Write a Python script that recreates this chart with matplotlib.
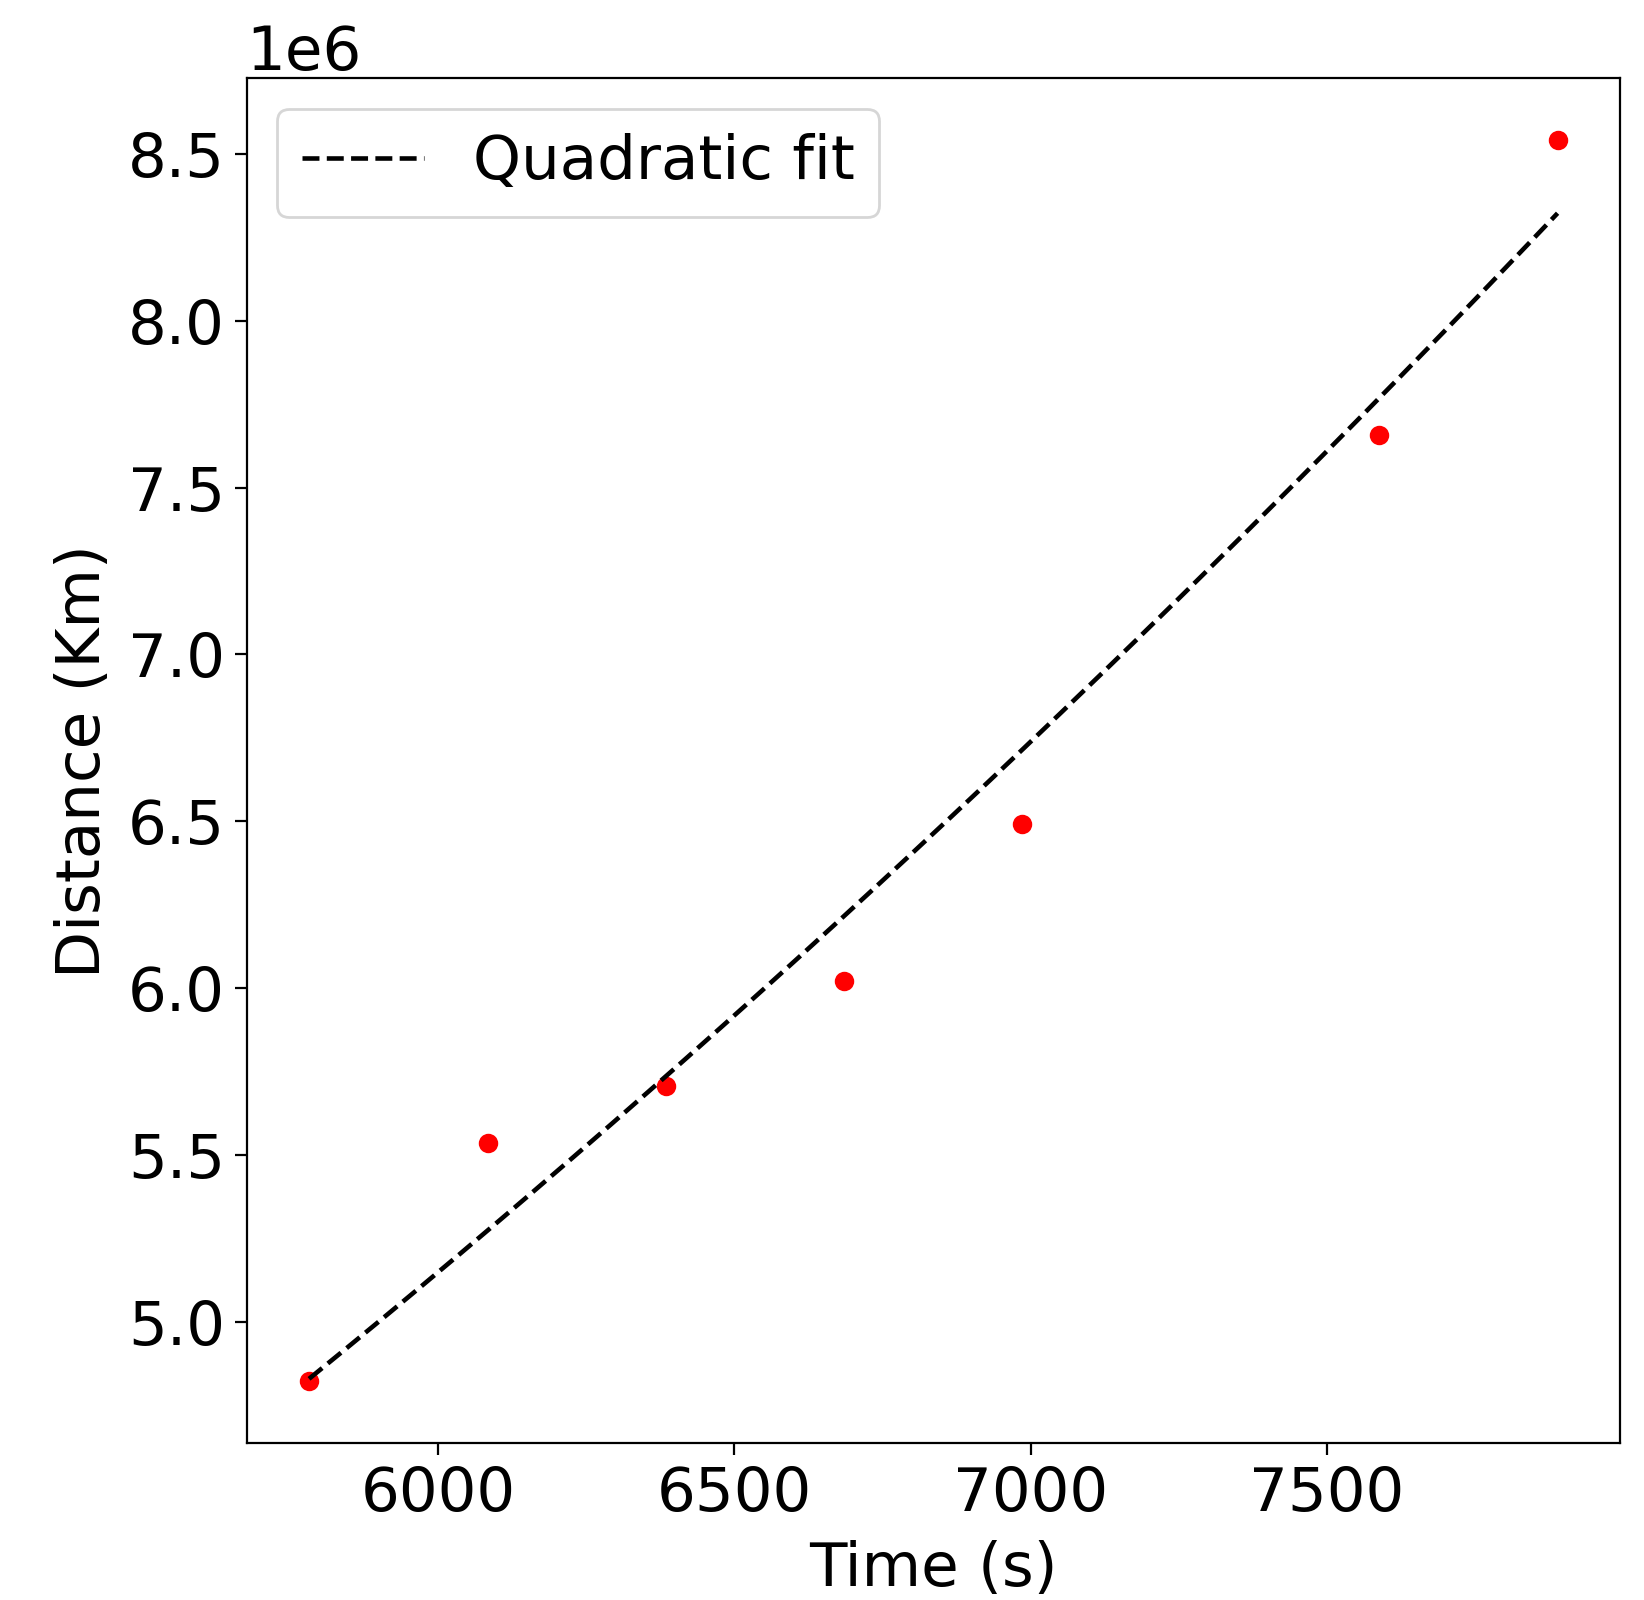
import numpy as np
import matplotlib
matplotlib.use("Agg")
import matplotlib.pyplot as plt

# Observed data (time in s, distance in km)
time_s = [5782, 6084, 6384, 6685, 6985, 7587, 7889]
distance_km = [4.823e6, 5.537e6, 5.707e6, 6.021e6, 6.491e6, 7.658e6, 8.540e6]

# Quadratic fit coefficients (centered at fit_center): a*u^2 + b*u + c, u = t - fit_center
fit_center = 6867.0
fit_coeffs = [0.10116, 1663.7, 6.516e6]

plt.rcParams['font.size'] = 22
plt.rcParams['xtick.major.size'] = 4.2
plt.rcParams['ytick.major.size'] = 4.2

fig = plt.figure(figsize=(8.22, 8.0), dpi=200)
ax = fig.add_axes([0.150, 0.098, 0.8354, 0.853])

t = np.array(time_s, dtype=float)
tt = np.linspace(t.min(), t.max(), 200)
ax.plot(t, distance_km, 'ro')
ax.plot(tt, np.polyval(fit_coeffs, tt - fit_center), 'k--', lw=1.65, label='Quadratic fit')

ax.set_xlabel('Time (s)', labelpad=6)
ax.set_ylabel('Distance (Km)', labelpad=5.5)
ax.legend(loc='upper left')

fig.savefig('out.png', dpi=200)
